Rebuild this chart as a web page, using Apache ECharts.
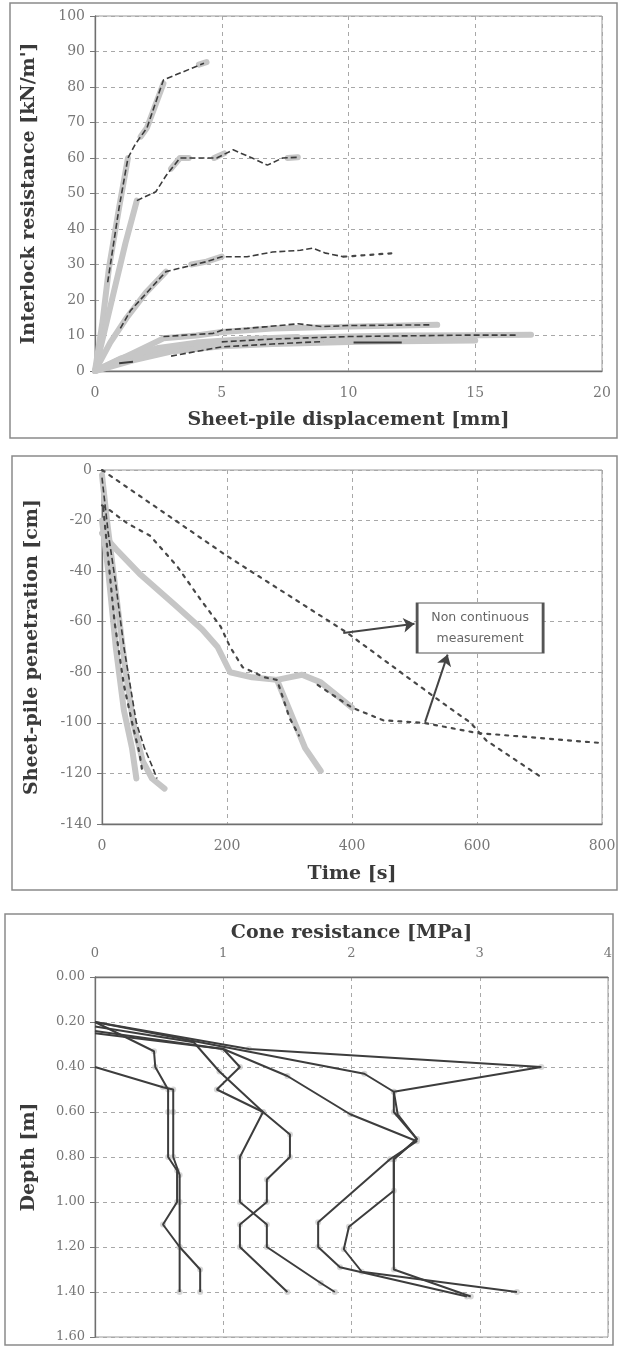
<!DOCTYPE html>
<html><head><meta charset="utf-8">
<script src="https://cdn.jsdelivr.net/npm/echarts@6/dist/echarts.min.js"></script>
<style>html,body{margin:0;padding:0;background:#fff}#c{width:623px;height:1346px}</style>
</head><body><div id="c"></div>
<script>
// ---------- Panel 1: interlock resistance vs displacement ----------
const p1XRange = [0, 20, 5];
const p1YRange = [0, 100, 10];
const p1Grey = [
  [[0,0],[0.3,14],[0.55,29],[0.95,46],[1.3,60]],
  [[1.8,66],[2.05,68.5],[2.7,81]],
  [[4.1,86.3],[4.4,87]],
  [[0,0],[0.6,18],[1.2,36],[1.65,48]],
  [[3.0,57],[3.35,60],[3.7,60]],
  [[4.7,60],[5.1,61.3]],
  [[7.6,60],[8.0,60.2]],
  [[0,0],[0.6,8],[1.25,15],[2.0,22],[2.8,28]],
  [[3.8,30],[4.4,30.8],[5.0,32.2]],
  [[0,0],[1.5,5],[2.7,9.2],[4.0,10],[5.0,11],[7,12],[10,12.5],[13.5,13]],
  [[0,0],[2,5],[4,7],[6,8.5],[8,9.3],[10,9.7],[12,10],[15,10.1],[17.2,10.2]],
  [[0,0],[1.5,3],[3,5.5],[5,7],[7,7.6],[10,8.2],[12,8.4],[15,8.6]],
  [[0,0],[1,3.5],[2.5,6.5],[4,8],[6,9],[8,9.6]]
];
const p1Dashed = [
  [[0.5,25],[0.95,46],[1.3,60],[1.6,64],[2.05,68.5],[2.7,82],[4.3,86.7]],
  [[1.65,48],[2.4,50.5],[2.8,55],[3.35,60],[4.8,60],[5.45,62.3],[6.2,60],[6.8,58],[7.4,60],[8.0,60.2]],
  [[1.0,12],[1.4,17],[2.8,28],[4.4,30.8],[5.0,32.2],[6.0,32.2],[7.0,33.5],[8.1,34],[8.6,34.6],[9.1,33.2],[9.8,32.2]],
  [[2.7,9.7],[4.66,10.6],[5.0,11.5],[6.0,12],[6.8,12.5],[8.0,13.3],[9.0,12.5],[10.0,12.8],[13.2,13]],
  [[5,8.2],[7,9],[10,9.7],[14.6,10.1],[16.7,10.1]],
  [[3,4.2],[5,6.8],[7,7.6],[9,8.3]]
];
const p1Dotted = [[[9.8,32.2],[11.8,33.2]]];
const p1Solid = [[[0.95,2.2],[1.5,2.6]], [[10.2,8],[12.1,8]]];

// ---------- Panel 2: penetration vs time ----------
const p2XRange = [0, 800, 200];
const p2YRange = [-140, 0, 20];
const p2Grey = [
  [[0,-2],[8,-20],[18,-40],[28,-60],[38,-80],[50,-100],[65,-115],[80,-122],[100,-126]],
  [[0,-20],[10,-40],[22,-70],[35,-95],[48,-110],[55,-122]],
  [[0,-25],[25,-32],[60,-41],[115,-53],[160,-63],[185,-70],[205,-80],[240,-82],[280,-83],[320,-81],[350,-84],[400,-94]],
  [[280,-83],[300,-95],[325,-110],[350,-119]]
];
const p2Dashed = [
  [[0,-3],[10,-25],[22,-45],[35,-70],[45,-85],[55,-100],[68,-110],[80,-117],[88,-122]]
];
const p2Dotted = [
  [[2,-15],[10,-35],[20,-60],[35,-85],[50,-102],[60,-112],[65,-120]],
  [[0,-14],[13,-16],[40,-21],[77,-26],[120,-38],[157,-51],[190,-62],[205,-70],[225,-78],[260,-82],[280,-83],[300,-98],[315,-105]],
  [[345,-85],[400,-94],[450,-99],[515,-100],[600,-104],[700,-106],[800,-108]],
  [[0,0],[200,-34],[390,-64],[500,-84],[550,-93],[590,-100],[615,-107],[700,-121]]
];
const p2NoteText = 'Non continuous\nmeasurement';
const p2NoteAt = [605, -62.5];
const p2Arrows = [[[386,-64.5],[500,-60.8]], [[517,-99.6],[553,-73]]];

// ---------- Panel 3: cone resistance vs depth ----------
const p3XRange = [0, 4, 1];
const p3YRange = [0, 1.6, 0.2];
const p3Lines = [
  [[0,0.2],[0.46,0.33],[0.47,0.40],[0.57,0.50],[0.57,0.60],[0.57,0.80],[0.64,0.86],[0.64,1.00],[0.53,1.10],[0.66,1.20],[0.82,1.30],[0.82,1.40]],
  [[0,0.40],[0.53,0.49],[0.61,0.50],[0.61,0.60],[0.61,0.80],[0.66,0.88],[0.66,1.00],[0.66,1.20],[0.66,1.40]],
  [[0,0.22],[0.77,0.29],[0.97,0.42],[1.31,0.60],[1.52,0.70],[1.52,0.80],[1.34,0.90],[1.34,1.00],[1.13,1.10],[1.13,1.20],[1.50,1.40]],
  [[0,0.24],[1.0,0.32],[1.13,0.40],[0.95,0.50],[1.31,0.60],[1.13,0.80],[1.13,1.00],[1.34,1.10],[1.34,1.20],[1.76,1.36],[1.87,1.40]],
  [[0,0.25],[1.0,0.32],[1.5,0.44],[1.99,0.61],[2.51,0.73],[2.30,0.81],[1.74,1.09],[1.74,1.20],[1.91,1.29],[2.90,1.42]],
  [[0,0.2],[1.0,0.31],[2.1,0.43],[2.33,0.51],[2.36,0.61],[2.51,0.72],[2.33,0.81],[2.33,1.30],[2.93,1.42]],
  [[0,0.2],[1.2,0.32],[3.48,0.40],[2.33,0.51],[2.33,0.60],[2.51,0.72],[2.33,0.81],[2.33,0.95],[1.98,1.11],[1.94,1.21],[2.08,1.31],[3.29,1.40]]
];

const TICK_FONT = {color:'#777', fontFamily:'DejaVu Serif', fontSize:14};
const NAME_FONT = {color:'#3a3a3a', fontFamily:'DejaVu Serif', fontWeight:'bold', fontSize:19};
const GRID_LINE = {show:true, lineStyle:{type:[4,4], color:'#a8a8a8', width:1}};
const AXIS_LINE = {show:true, onZero:false, lineStyle:{color:'#6f6f6f', width:1.3}};

const STY = {
  grey:{color:'#c6c6c6', width:6, cap:'round', join:'round'},
  dashed:{color:'#3c3c3c', width:1.6, type:[6,3]},
  dotted:{color:'#474747', width:2.2, type:[3,6], cap:'round'},
  solid:{color:'#3d3d3d', width:2}
};
const series = [];
function add(g, list, sty, z) {
  list.forEach(d => series.push({
    type:'line', xAxisIndex:g, yAxisIndex:g, data:d, symbol:'none', showSymbol:false,
    lineStyle:STY[sty], z:z, silent:true, animation:false
  }));
}
add(0, p1Grey, 'grey', 2); add(0, p1Dashed, 'dashed', 3); add(0, p1Dotted, 'dotted', 3); add(0, p1Solid, 'solid', 3);
add(1, p2Grey, 'grey', 2); add(1, p2Dashed, 'dashed', 3); add(1, p2Dotted, 'dotted', 3);
// light grey vertex markers under the cone-resistance lines
p3Lines.forEach(d => series.push({
  type:'scatter', xAxisIndex:2, yAxisIndex:2, data:d.slice(1), symbol:'circle', symbolSize:6,
  itemStyle:{color:'#cdcdcd'}, z:2, silent:true, animation:false
}));
add(2, p3Lines, 'solid', 3);

// annotation (box + arrows) in data coordinates of panel 2
series.push({
  type:'line', xAxisIndex:1, yAxisIndex:1, data:[], silent:true, animation:false, z:5,
  markPoint:{
    silent:true, animation:false,
    data:[{coord:p2NoteAt, symbol:'rect', symbolSize:[126,50],
      itemStyle:{color:'#fff', borderColor:'#555', borderWidth:1.8},
      label:{show:true, position:'inside', formatter:p2NoteText, color:'#666',
        fontFamily:'DejaVu Sans', fontSize:12.5, lineHeight:21}}]
  },
  markLine:{
    silent:true, animation:false, symbol:['none','arrow'], symbolSize:11,
    lineStyle:{color:'#444', width:2, type:'solid'}, label:{show:false},
    data:p2Arrows.map(a => [{coord:a[0]},{coord:a[1]}])
  }
});

function xAx(g, r, extra) {
  return Object.assign({gridIndex:g, type:'value', min:r[0], max:r[1], interval:r[2],
    axisLine:AXIS_LINE, axisTick:{show:false}, axisLabel:Object.assign({margin:15}, TICK_FONT),
    splitLine:GRID_LINE, nameLocation:'middle', nameTextStyle:NAME_FONT}, extra);
}
function yAx(g, r, extra) {
  return Object.assign({gridIndex:g, type:'value', min:r[0], max:r[1], interval:r[2],
    axisLine:AXIS_LINE, axisTick:{show:true, length:5, lineStyle:{color:'#777'}},
    axisLabel:Object.assign({margin:10}, TICK_FONT),
    splitLine:GRID_LINE, nameLocation:'middle', nameTextStyle:NAME_FONT}, extra);
}

const chart = echarts.init(document.getElementById('c'), null, {renderer:'canvas'});
chart.setOption({
  backgroundColor:'#ffffff',
  animation:false,
  grid:[
    {left:95, top:16, width:507, height:355, show:true, borderColor:'#9a9a9a', borderWidth:1},
    {left:102, top:470, width:500, height:354, show:true, borderColor:'#9a9a9a', borderWidth:1},
    {left:95, top:977, width:513, height:360, show:true, borderColor:'#9a9a9a', borderWidth:1}
  ],
  xAxis:[
    xAx(0, p1XRange, {name:'Sheet-pile displacement [mm]', nameGap:40}),
    xAx(1, p2XRange, {name:'Time [s]', nameGap:41}),
    xAx(2, p3XRange, {position:'top', name:'Cone resistance [MPa]', nameGap:34,
      axisLabel:Object.assign({margin:17}, TICK_FONT, {fontSize:13})})
  ],
  yAxis:[
    yAx(0, p1YRange, {name:"Interlock resistance [kN/m']", nameGap:56}),
    yAx(1, p2YRange, {name:'Sheet-pile penetration [cm]', nameGap:60}),
    yAx(2, p3YRange, {inverse:true, name:'Depth [m]', nameGap:56,
      axisLabel:Object.assign({margin:10, formatter:v => v.toFixed(2)}, TICK_FONT, {fontSize:13})})
  ],
  graphic:[
    {type:'rect', silent:true, shape:{x:10, y:3, width:607, height:435}, style:{fill:'none', stroke:'#8a8a8a', lineWidth:1.5}},
    {type:'rect', silent:true, shape:{x:12, y:456, width:605, height:434}, style:{fill:'none', stroke:'#8a8a8a', lineWidth:1.5}},
    {type:'rect', silent:true, shape:{x:5, y:914, width:608, height:431}, style:{fill:'none', stroke:'#8a8a8a', lineWidth:1.5}}
  ],
  series:series
});
</script></body></html>
